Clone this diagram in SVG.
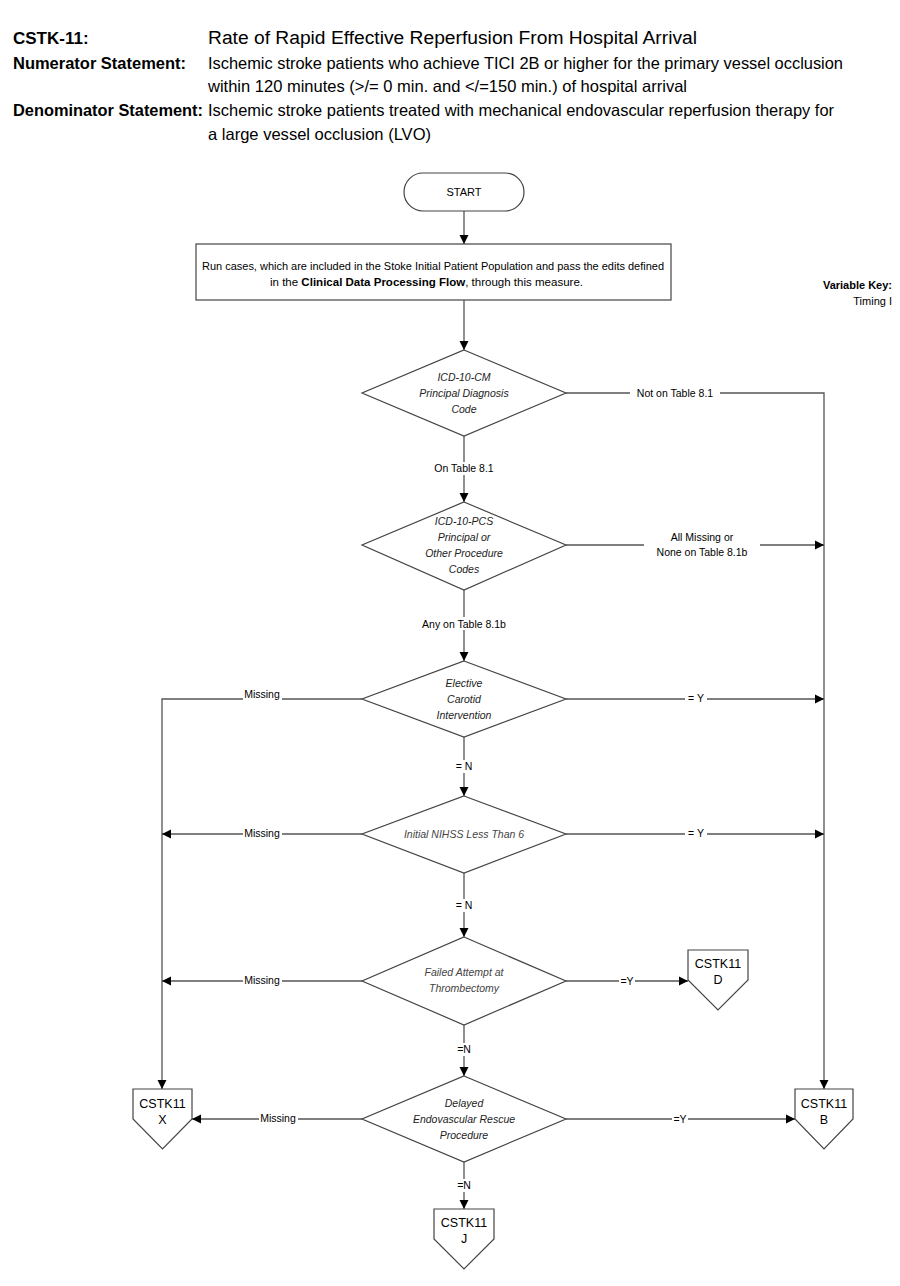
<svg xmlns="http://www.w3.org/2000/svg" width="900" height="1286" viewBox="0 0 900 1286">
<defs>
<style>
text{font-family:"Liberation Sans",Arial,sans-serif;fill:#000}
.hb{font-weight:bold;font-size:17px}
.hr{font-size:16.5px}
.ht{font-size:18px}
.node{fill:#fff;stroke:#444;stroke-width:1.2}
.dt{font-size:10.5px;font-style:italic;text-anchor:middle;fill:#222}
.gt{fill:#444}
.lbl{font-size:10.5px;text-anchor:middle}
.ct{font-size:12.5px;text-anchor:middle}
.ln{fill:none;stroke:#555;stroke-width:1.3}
.bg{fill:#fff}
</style>
<marker id="ah" markerWidth="10" markerHeight="10" refX="9" refY="5" orient="auto" markerUnits="userSpaceOnUse">
<path d="M0,0.5 L9,5 L0,9.5 Z" fill="#000"/>
</marker>
</defs>
<rect width="900" height="1286" fill="#fff"/>

<g id="header">
<text class="hb" x="13" y="44" font-size="18">CSTK-11:</text>
<text class="ht" x="208" y="44" textLength="489" lengthAdjust="spacingAndGlyphs">Rate of Rapid Effective Reperfusion From Hospital Arrival</text>
<text class="hb" x="13" y="69" textLength="173" lengthAdjust="spacingAndGlyphs">Numerator Statement:</text>
<text class="hr" x="208" y="69" textLength="635" lengthAdjust="spacingAndGlyphs">Ischemic stroke patients who achieve TICI 2B or higher for the primary vessel occlusion</text>
<text class="hr" x="208" y="92" textLength="479" lengthAdjust="spacingAndGlyphs">within 120 minutes (&gt;/= 0 min. and &lt;/=150 min.) of hospital arrival</text>
<text class="hb" x="13" y="116" textLength="190" lengthAdjust="spacingAndGlyphs">Denominator Statement:</text>
<text class="hr" x="208" y="116" textLength="626" lengthAdjust="spacingAndGlyphs">Ischemic stroke patients treated with mechanical endovascular reperfusion therapy for</text>
<text class="hr" x="208" y="140" textLength="223" lengthAdjust="spacingAndGlyphs">a large vessel occlusion (LVO)</text>
</g>

<g id="variable-key">
<text x="892" y="289" font-size="11" font-weight="bold" text-anchor="end">Variable Key:</text>
<text x="892" y="305" font-size="11" text-anchor="end" fill="#222">Timing I</text>
</g>

<g id="connectors">
<line class="ln" x1="464" y1="211" x2="464" y2="244" marker-end="url(#ah)"/>
<line class="ln" x1="464" y1="300" x2="464" y2="350" marker-end="url(#ah)"/>
<polyline class="ln" points="566,393 824,393 824,1089" marker-end="url(#ah)"/>
<line class="ln" x1="464" y1="436" x2="464" y2="502" marker-end="url(#ah)"/>
<line class="ln" x1="566" y1="545" x2="824" y2="545" marker-end="url(#ah)"/>
<line class="ln" x1="464" y1="590" x2="464" y2="661" marker-end="url(#ah)"/>
<polyline class="ln" points="362,699 162,699 162,1089" marker-end="url(#ah)"/>
<line class="ln" x1="566" y1="699" x2="824" y2="699" marker-end="url(#ah)"/>
<line class="ln" x1="464" y1="737" x2="464" y2="796" marker-end="url(#ah)"/>
<line class="ln" x1="362" y1="834" x2="162" y2="834" marker-end="url(#ah)"/>
<line class="ln" x1="566" y1="834" x2="824" y2="834" marker-end="url(#ah)"/>
<line class="ln" x1="464" y1="873" x2="464" y2="937" marker-end="url(#ah)"/>
<line class="ln" x1="362" y1="981" x2="162" y2="981" marker-end="url(#ah)"/>
<line class="ln" x1="566" y1="981" x2="688" y2="981" marker-end="url(#ah)"/>
<line class="ln" x1="464" y1="1025" x2="464" y2="1076" marker-end="url(#ah)"/>
<line class="ln" x1="362" y1="1119" x2="192" y2="1119" marker-end="url(#ah)"/>
<line class="ln" x1="566" y1="1119" x2="795" y2="1119" marker-end="url(#ah)"/>
<line class="ln" x1="464" y1="1162" x2="464" y2="1209" marker-end="url(#ah)"/>

<rect class="bg" x="630" y="387" width="90" height="13"/>
<text class="lbl" x="675" y="397">Not on Table 8.1</text>
<rect class="bg" x="430" y="462" width="68" height="13"/>
<text class="lbl" x="464" y="472">On Table 8.1</text>
<rect class="bg" x="644" y="530" width="116" height="28"/>
<text class="lbl" x="702" y="541">All Missing or</text>
<text class="lbl" x="702" y="556">None on Table 8.1b</text>
<rect class="bg" x="416" y="617" width="96" height="13"/>
<text class="lbl" x="464" y="628">Any on Table 8.1b</text>
<rect class="bg" x="243" y="689" width="39" height="13"/>
<text class="lbl" x="262" y="698">Missing</text>
<rect class="bg" x="685" y="693" width="22" height="12"/>
<text class="lbl" x="696" y="702">= Y</text>
<rect class="bg" x="452" y="760" width="24" height="13"/>
<text class="lbl" x="464" y="770">= N</text>
<rect class="bg" x="243" y="828" width="39" height="13"/>
<text class="lbl" x="262" y="837">Missing</text>
<rect class="bg" x="685" y="828" width="22" height="12"/>
<text class="lbl" x="696" y="837">= Y</text>
<rect class="bg" x="452" y="899" width="24" height="13"/>
<text class="lbl" x="464" y="909">= N</text>
<rect class="bg" x="243" y="975" width="39" height="13"/>
<text class="lbl" x="262" y="984">Missing</text>
<rect class="bg" x="619" y="975" width="16" height="12"/>
<text class="lbl" x="627" y="985">=Y</text>
<rect class="bg" x="454" y="1043" width="20" height="13"/>
<text class="lbl" x="464" y="1053">=N</text>
<rect class="bg" x="259" y="1113" width="39" height="13"/>
<text class="lbl" x="278" y="1122">Missing</text>
<rect class="bg" x="672" y="1113" width="16" height="12"/>
<text class="lbl" x="680" y="1123">=Y</text>
<rect class="bg" x="454" y="1179" width="20" height="13"/>
<text class="lbl" x="464" y="1189">=N</text>
</g>

<g id="start">
<rect class="node" x="404" y="173" width="120" height="38" rx="19" ry="19"/>
<text x="464" y="196" font-size="11" text-anchor="middle">START</text>
</g>

<g id="run-cases">
<rect class="node" x="196" y="244" width="475" height="56"/>
<text x="202" y="270" font-size="10.5" textLength="462" lengthAdjust="spacingAndGlyphs">Run cases, which are included in the Stoke Initial Patient Population and pass the edits defined</text>
<text x="270" y="286" font-size="10.5" textLength="313" lengthAdjust="spacingAndGlyphs">in the <tspan font-weight="bold">Clinical Data Processing Flow</tspan>, through this measure.</text>
</g>

<g id="d1">
<polygon class="node" points="464,350 566,393 464,436 362,393"/>
<text class="dt" x="464" y="381">ICD-10-CM</text>
<text class="dt" x="464" y="397">Principal Diagnosis</text>
<text class="dt" x="464" y="413">Code</text>
</g>

<g id="d2">
<polygon class="node" points="464,502 566,545 464,590 362,545"/>
<text class="dt" x="464" y="525">ICD-10-PCS</text>
<text class="dt" x="464" y="541">Principal or</text>
<text class="dt" x="464" y="557">Other Procedure</text>
<text class="dt" x="464" y="573">Codes</text>
</g>

<g id="d3">
<polygon class="node" points="464,661 566,699 464,737 362,699"/>
<text class="dt" x="464" y="687">Elective</text>
<text class="dt" x="464" y="703">Carotid</text>
<text class="dt" x="464" y="719">Intervention</text>
</g>

<g id="d4">
<polygon class="node" points="464,796 566,834 464,873 362,834"/>
<text class="dt gt" x="464" y="838">Initial NIHSS Less Than 6</text>
</g>

<g id="d5">
<polygon class="node" points="464,937 566,981 464,1025 362,981"/>
<text class="dt gt" x="464" y="976">Failed Attempt at</text>
<text class="dt gt" x="464" y="992">Thrombectomy</text>
</g>

<g id="d6">
<polygon class="node" points="464,1076 566,1119 464,1162 362,1119"/>
<text class="dt" x="464" y="1107">Delayed</text>
<text class="dt" x="464" y="1123">Endovascular Rescue</text>
<text class="dt" x="464" y="1139">Procedure</text>
</g>

<g id="cstk11-d">
<polygon class="node" points="688,950 748,950 748,980 718,1010 688,980"/>
<text class="ct" x="718" y="968">CSTK11</text>
<text class="ct" x="718" y="984">D</text>
</g>

<g id="cstk11-x">
<polygon class="node" points="133,1089 192,1089 192,1119 162.5,1149 133,1119"/>
<text class="ct" x="162.5" y="1108">CSTK11</text>
<text class="ct" x="162.5" y="1124">X</text>
</g>

<g id="cstk11-b">
<polygon class="node" points="795,1089 853,1089 853,1119 824,1149 795,1119"/>
<text class="ct" x="824" y="1108">CSTK11</text>
<text class="ct" x="824" y="1124">B</text>
</g>

<g id="cstk11-j">
<polygon class="node" points="434,1209 494,1209 494,1239 464,1269 434,1239"/>
<text class="ct" x="464" y="1227">CSTK11</text>
<text class="ct" x="464" y="1243">J</text>
</g>
</svg>
